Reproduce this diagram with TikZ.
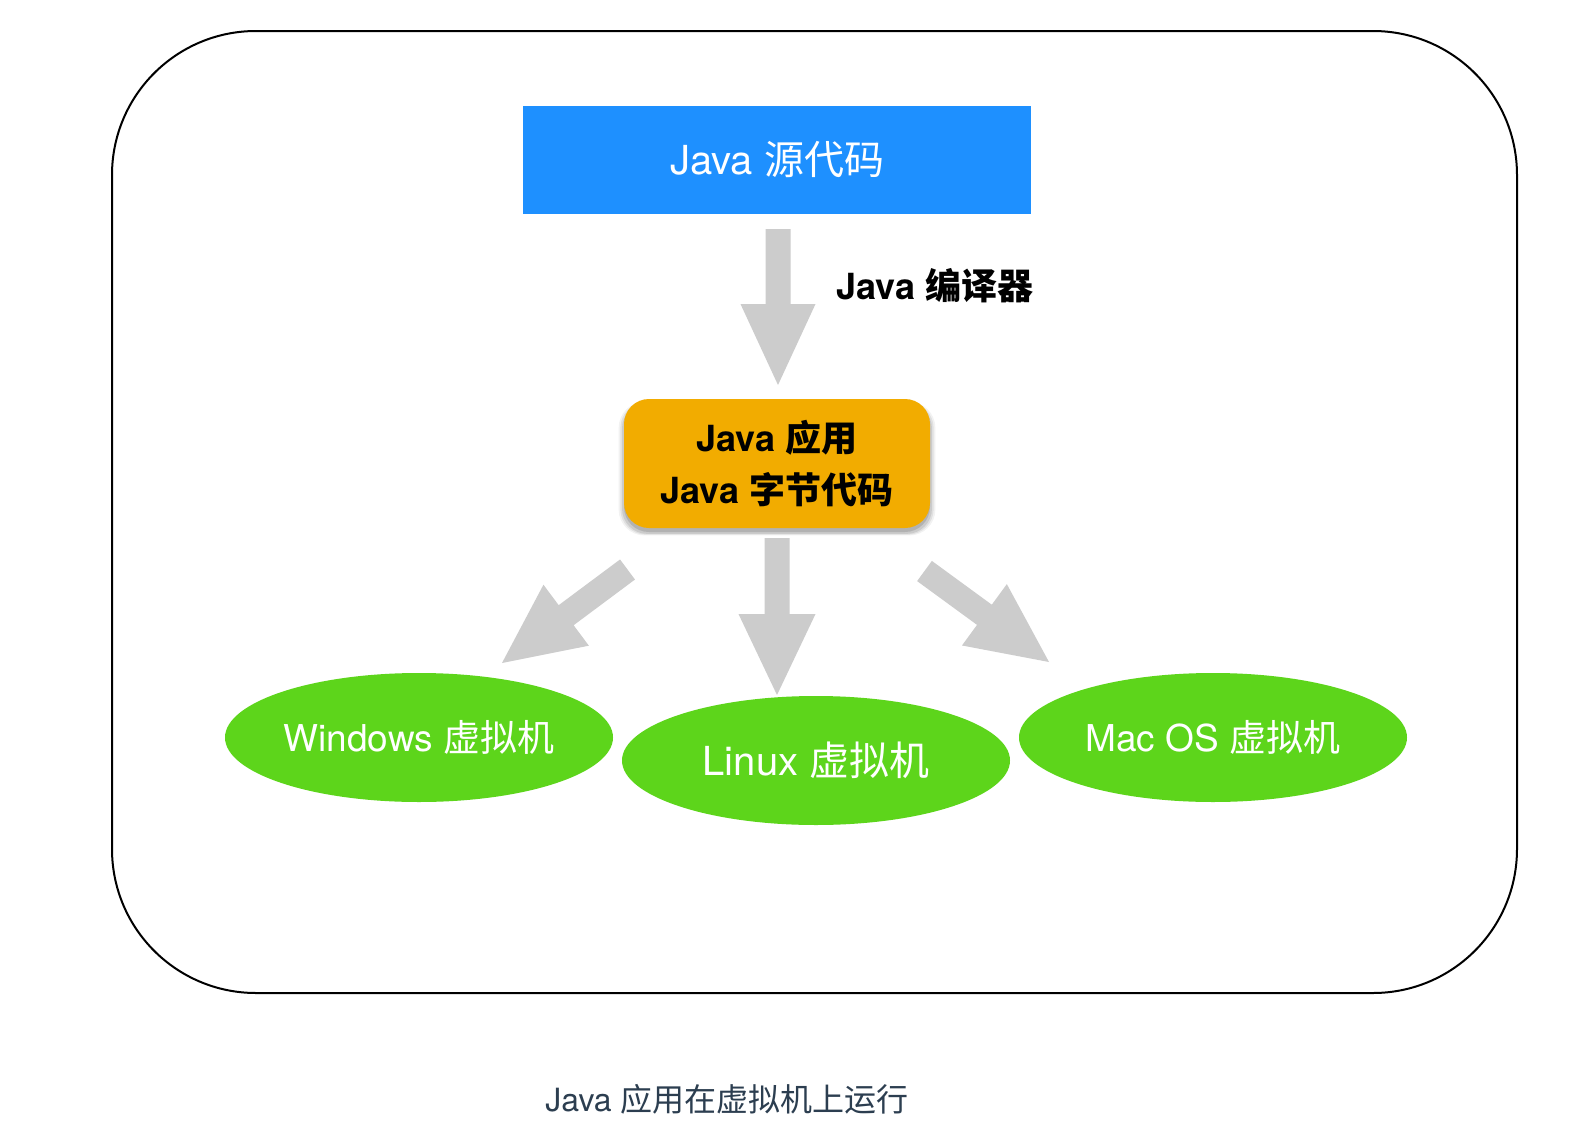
\documentclass[tikz,border=0pt]{standalone}
\usepackage{fontspec}
\setmainfont{TeX Gyre Heros}
\newfontfamily\cjk{Noto Sans CJK SC}
\newcommand\zh[1]{{\cjk #1}}
\usetikzlibrary{calc,shapes.geometric,shadows}
\definecolor{srcblue}{HTML}{1E90FF}
\definecolor{jarorange}{HTML}{F2AC00}
\definecolor{vmgreen}{HTML}{5DD51B}
\definecolor{arrowgray}{HTML}{CCCCCC}
\definecolor{captext}{HTML}{2C3E50}
% block arrow: start, end, head length, head half width
\newcommand\blockarrow[4]{%
  \path coordinate (ba-h) at ($(#2)!#3!(#1)$);
  \fill[arrowgray] ($(#1)!6.25pt!90:(#2)$) -- ($(ba-h)!6.25pt!90:(#2)$)
    -- ($(ba-h)!#4!90:(#2)$) -- (#2) -- ($(ba-h)!#4!-90:(#2)$)
    -- ($(ba-h)!6.25pt!-90:(#2)$) -- ($(#1)!6.25pt!-90:(#2)$) -- cycle;}
\begin{document}
\begin{tikzpicture}[x=0.5pt,y=-0.5pt,
  frame/.style={draw=black,line width=1pt,rounded corners=72pt,
    minimum width=702.5pt,minimum height=481pt,inner sep=0pt},
  srcbox/.style={fill=srcblue,text=white,minimum width=254pt,minimum height=54pt,
    inner sep=0pt,font=\fontsize{20}{24}\selectfont},
  jarbox/.style={fill=jarorange,text=black,rounded corners=12.5pt,
    minimum width=153pt,minimum height=64.5pt,inner sep=0pt,align=center,
    font=\fontsize{18}{26}\selectfont\bfseries,
    drop shadow={shadow xshift=0pt,shadow yshift=-2.5pt,shadow scale=1.035,opacity=0.05,fill=black},
    drop shadow={shadow xshift=0pt,shadow yshift=-2.5pt,shadow scale=1.024,opacity=0.07,fill=black},
    drop shadow={shadow xshift=0pt,shadow yshift=-2.5pt,shadow scale=1.013,opacity=0.09,fill=black},
    drop shadow={shadow xshift=0pt,shadow yshift=-2pt,shadow scale=1.0,opacity=0.12,fill=black}},
  vm/.style={ellipse,fill=vmgreen,text=white,minimum width=194pt,
    minimum height=64.5pt,inner sep=0pt},
  lbl/.style={text=black,inner sep=0pt,font=\fontsize{18}{22}\selectfont\bfseries},
  captionstyle/.style={text=captext,inner sep=0pt,font=\fontsize{16}{20}\selectfont}]
\fill[white] (0,0) rectangle (1586,1140);
\useasboundingbox (0,0) rectangle (1586,1140);
\node[frame] (frame) at (814.5,512) {};
\node[srcbox] (src) at (777,160) {Java \zh{源代码}};
\node[jarbox] (jar) at (777,463.5) {Java \zh{应用}\\Java \zh{字节代码}};
\node[vm,font=\fontsize{18.5}{22}\selectfont] (win) at (419,737.5) {Windows \zh{虚拟机}};
\node[vm,font=\fontsize{20}{24}\selectfont] (lin) at (816,760.5) {Linux \zh{虚拟机}};
\node[vm,font=\fontsize{18.5}{22}\selectfont] (mac) at (1213,737.5) {Mac OS \zh{虚拟机}};
\node[lbl,anchor=west] (comp) at (836,286) {Java \zh{编译器}};
\node[captionstyle] (caption) at (727,1099) {Java \zh{应用在虚拟机上运行}};
% arrows
\coordinate (a1s) at (778,229);
\coordinate (a1e) at (778,385);
\coordinate (a2s) at (777,538);
\coordinate (a2e) at (777,695);
\coordinate (a3s) at (627.5,569.5);
\coordinate (a3e) at (502,663);
\coordinate (a4s) at (924.5,571);
\coordinate (a4e) at (1049,662);
\blockarrow{a1s}{a1e}{40.5pt}{18.75pt}
\blockarrow{a2s}{a2e}{40.5pt}{19.25pt}
\blockarrow{a3s}{a3e}{40pt}{19pt}
\blockarrow{a4s}{a4e}{40pt}{19pt}
\end{tikzpicture}
\end{document}
